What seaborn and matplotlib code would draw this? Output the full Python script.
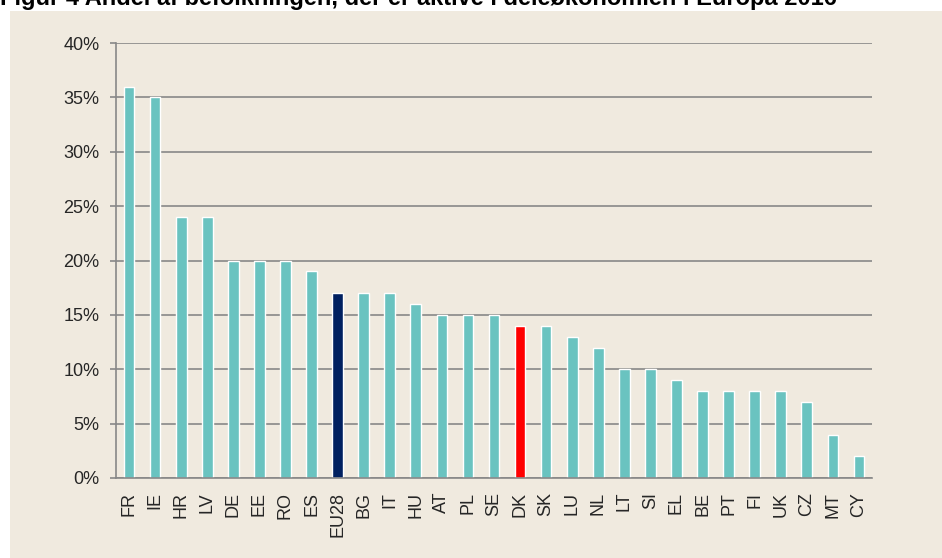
import pandas as pd
import matplotlib.pyplot as plt
import seaborn as sns
from matplotlib.patches import Rectangle
from matplotlib.ticker import FuncFormatter, FixedLocator

# Data
countries = ['FR', 'IE', 'HR', 'LV', 'DE', 'EE', 'RO', 'ES', 'EU28', 'BG', 'IT', 'HU',
             'AT', 'PL', 'SE', 'DK', 'SK', 'LU', 'NL', 'LT', 'SI', 'EL', 'BE', 'PT',
             'FI', 'UK', 'CZ', 'MT', 'CY']
shares = [36, 35, 24, 24, 20, 20, 20, 19, 17, 17, 17, 16,
          15, 15, 15, 14, 14, 13, 12, 10, 10, 9, 8, 8,
          8, 8, 7, 4, 2]
title = 'Figur 4 Andel af befolkningen, der er aktive i deleøkonomien i Europa 2016'

teal = '#6AC3C0'
navy = '#002060'
red = '#FF0000'
panel_bg = '#F0EADF'
grid_col = '#888888'

df = pd.DataFrame({'country': countries, 'share': shares})
palette = {c: teal for c in countries}
palette['EU28'] = navy
palette['DK'] = red

sns.set_style('white')
plt.rcParams['font.family'] = ['Liberation Sans', 'DejaVu Sans']

fig = plt.figure(figsize=(9.42, 5.58), dpi=100)
fig.patch.set_facecolor('white')
fig.patches.append(Rectangle((10 / 942, 0), 1 - 10 / 942, 1 - 11 / 558,
                             transform=fig.transFigure, facecolor=panel_bg,
                             edgecolor='none', zorder=-10))

ax = fig.add_axes([116 / 942, 1 - 478 / 558, (872 - 116) / 942, (478 - 43) / 558])
ax.set_facecolor('none')

sns.barplot(data=df, x='country', y='share', hue='country', palette=palette,
            legend=False, width=0.41, saturation=1, ax=ax)

ax.set_ylim(0, 40)
ax.set_xlim(-0.5, len(countries) - 0.5)
ax.yaxis.set_major_locator(FixedLocator(range(0, 41, 5)))
ax.yaxis.set_major_formatter(FuncFormatter(lambda v, p: f'{v:.0f}%'))
ax.grid(axis='y', color=grid_col, linewidth=1.2)
ax.set_axisbelow(True)

# ticks at category boundaries, labels centred under bars
ax.set_xticks(range(len(countries)))
ax.set_xticklabels(countries, rotation=90, fontsize=13)
ax.set_xticks([i - 0.5 for i in range(len(countries) + 1)], minor=True)
ax.tick_params(axis='x', which='major', length=0, pad=10)
ax.tick_params(axis='x', which='minor', length=4, width=1.2, color=grid_col, direction='out')
ax.tick_params(axis='y', length=4, width=1.2, color=grid_col, direction='out', pad=8,
               labelsize=13)
ax.tick_params(left=True, bottom=True)

for side in ['top', 'right']:
    ax.spines[side].set_visible(False)
for side in ['left', 'bottom']:
    ax.spines[side].set_color(grid_col)
    ax.spines[side].set_linewidth(1.2)

ax.set_xlabel('')
ax.set_ylabel('')

# title sits partly above the canvas, as in the source image
fig.text(0.0, 1 - 5 / 558, title, fontsize=17, fontweight='bold',
         ha='left', va='baseline', color='black')

fig.savefig('out.png', dpi=100, facecolor=fig.get_facecolor())
plt.close(fig)
